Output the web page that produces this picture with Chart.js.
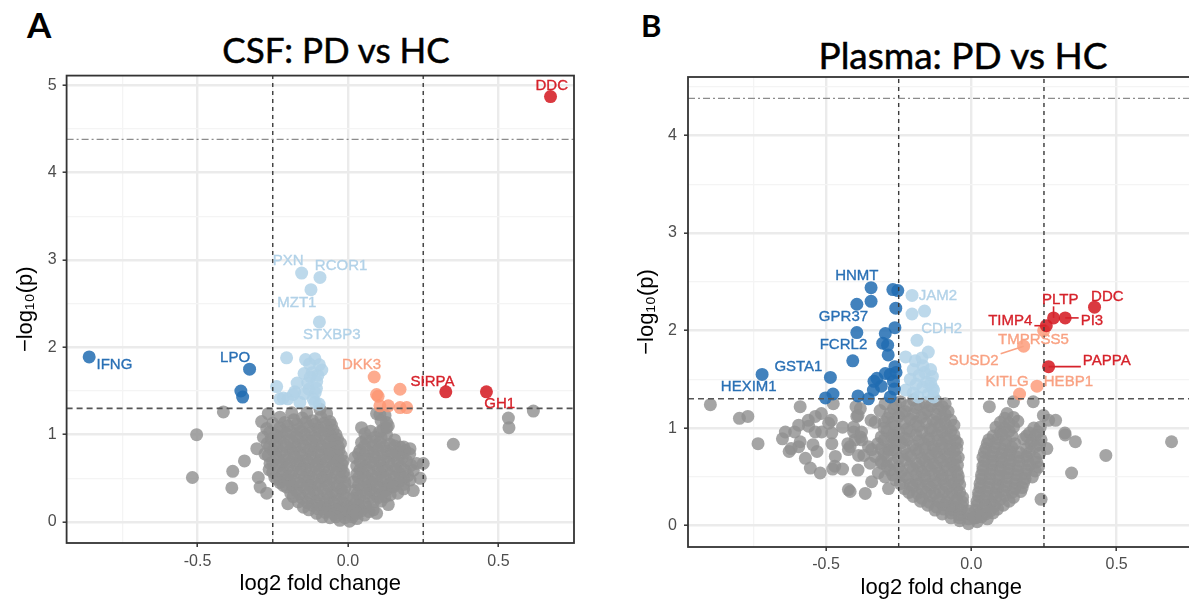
<!DOCTYPE html>
<html>
<head>
<meta charset="utf-8">
<script src="https://cdn.jsdelivr.net/npm/chart.js@4.4.1/dist/chart.umd.min.js"></script>
<style>
  html, body { margin: 0; padding: 0; background: #fff; overflow: hidden; width: 1189px; height: 602px; }
  .txt { position: absolute; font-family: Lato, 'Open Sans', sans-serif; color: #000; white-space: nowrap; line-height: 1.2; }
  .tag { font-weight: bold; }
  .ttl { text-align: center; width: 420px; -webkit-text-stroke: 0.5px #000; }
  .wrap { position: absolute; }
</style>
</head>
<body>
<div class="txt tag" style="left:27px;top:3px;font-size:35px;">A</div>
<div class="txt tag" style="left:641px;top:7px;font-size:31px;">B</div>
<div class="txt ttl" style="left:126px;top:28px;font-size:35px;">CSF: PD vs HC</div>
<div class="txt ttl" style="left:753px;top:33px;font-size:37px;">Plasma: PD vs HC</div>
<div class="wrap" style="left:0;top:60px;"><canvas id="csfChart" width="590" height="542"></canvas></div>
<div class="wrap" style="left:620px;top:60px;"><canvas id="plasmaChart" width="620" height="542"></canvas></div>

<script>
// cut-offs used in both plots
const fcCut = 0.25;
const pCut = 1.301;      // -log10(0.05)
const bonfCut = 4.38;    // bonferroni line

const xTickVals = [-0.75, -0.5, -0.25, 0, 0.25, 0.5, 0.75];
const yTickVals = [0, 0.5, 1, 1.5, 2, 2.5, 3, 3.5, 4, 4.5, 5];

// ---------- CSF (panel A) ----------
const csfUpStrong = [[0.673, 4.87, 'DDC'], [0.325, 1.49, 'SIRPA'], [0.46, 1.49, 'GH1']];
const csfUpWeak = [[0.087, 1.66, 'DKK3'], [0.095, 1.46], [0.173, 1.52], [0.106, 1.33], [0.134, 1.33],
  [0.173, 1.31], [0.195, 1.31], [0.1, 1.44]];
const csfDownStrong = [[-0.86, 1.89, 'IFNG'], [-0.327, 1.75, 'LPO'], [-0.356, 1.50], [-0.35, 1.43]];
const csfDownWeak = [[-0.154, 2.85, 'PXN'], [-0.093, 2.80, 'RCOR1'], [-0.123, 2.66, 'MZT1'], [-0.095, 2.29, 'STXBP3'],
  [-0.204, 1.88], [-0.141, 1.86], [-0.11, 1.87], [-0.087, 1.74], [-0.119, 1.71], [-0.146, 1.70], [-0.104, 1.61],
  [-0.134, 1.59], [-0.169, 1.59], [-0.237, 1.55], [-0.177, 1.49], [-0.109, 1.48], [-0.226, 1.41], [-0.2, 1.41],
  [-0.16, 1.37], [-0.116, 1.41], [-0.096, 1.35], [-0.215, 1.42], [-0.182, 1.46], [-0.11, 1.37], [-0.125, 1.66],
  [-0.1, 1.68], [-0.13, 1.52], [-0.105, 1.53], [-0.145, 1.47], [-0.128, 1.81], [-0.095, 1.8]];
const csfNS = [
  [-0.414, 1.26], [-0.503, 1.00], [-0.517, 0.51], [-0.344, 0.70], [-0.383, 0.58], [-0.386, 0.39], [-0.303, 0.84],
  [-0.287, 1.15], [-0.298, 0.51], [-0.27, 0.33], [-0.292, 0.40], [-0.2, 0.21],
  [0.616, 1.27], [0.533, 1.19], [0.535, 1.08], [0.35, 0.89], [0.206, 0.84], [0.25, 0.67], [0.217, 0.36], [0.24, 0.50],
  [0.128, 1.08], [0.106, 1.23], [0.134, 0.20], [0.095, 0.10],
  [-0.265, 1.24], [-0.187, 1.25], [-0.137, 1.25], [-0.093, 1.29], [-0.071, 1.24],
  [-0.226, 1.20], [-0.18, 1.17], [-0.152, 1.19], [-0.118, 1.16], [-0.09, 1.2], [-0.06, 1.15],
  [-0.25, 1.13], [-0.21, 1.14], [-0.17, 1.12], [-0.14, 1.14], [-0.11, 1.12], [-0.08, 1.13], [-0.055, 1.11],
  [-0.27, 1.07], [-0.226, 1.08], [-0.2, 1.1], [-0.165, 1.06], [-0.13, 1.09], [-0.1, 1.07], [-0.072, 1.1], [-0.049, 1.05],
  [-0.26, 1.03], [-0.22, 1.04], [-0.19, 1.03], [-0.155, 1.04], [-0.125, 1.02], [-0.095, 1.04], [-0.065, 1.03], [-0.04, 1.0],
  [-0.281, 0.97], [-0.237, 0.99], [-0.204, 1.01], [-0.172, 0.98], [-0.143, 1.0], [-0.112, 0.97], [-0.083, 1.01], [-0.055, 0.98], [-0.035, 0.95],
  [-0.255, 0.95], [-0.225, 0.96], [-0.195, 0.94], [-0.165, 0.95], [-0.135, 0.94], [-0.105, 0.95], [-0.075, 0.94], [-0.045, 0.93], [-0.025, 0.9],
  [-0.268, 0.9], [-0.237, 0.93], [-0.21, 0.88], [-0.18, 0.91], [-0.15, 0.89], [-0.12, 0.92], [-0.092, 0.88], [-0.063, 0.91], [-0.032, 0.86],
  [-0.262, 0.86], [-0.235, 0.85], [-0.205, 0.86], [-0.175, 0.85], [-0.145, 0.86], [-0.115, 0.85], [-0.085, 0.86], [-0.055, 0.85], [-0.03, 0.82],
  [-0.276, 0.78], [-0.25, 0.82], [-0.222, 0.8], [-0.19, 0.83], [-0.16, 0.79], [-0.13, 0.82], [-0.1, 0.8], [-0.07, 0.83], [-0.045, 0.79], [-0.022, 0.76],
  [-0.265, 0.76], [-0.24, 0.77], [-0.21, 0.76], [-0.18, 0.78], [-0.15, 0.76], [-0.12, 0.77], [-0.09, 0.76], [-0.06, 0.78], [-0.035, 0.76],
  [-0.259, 0.67], [-0.238, 0.73], [-0.208, 0.71], [-0.178, 0.74], [-0.148, 0.7], [-0.118, 0.73], [-0.09, 0.71], [-0.06, 0.74], [-0.034, 0.7], [-0.016, 0.7],
  [-0.25, 0.68], [-0.22, 0.67], [-0.19, 0.69], [-0.16, 0.67], [-0.13, 0.68], [-0.1, 0.67], [-0.07, 0.69], [-0.04, 0.67], [-0.02, 0.66],
  [-0.262, 0.6], [-0.23, 0.64], [-0.2, 0.62], [-0.17, 0.65], [-0.14, 0.61], [-0.11, 0.64], [-0.08, 0.62], [-0.05, 0.65], [-0.022, 0.61],
  [-0.25, 0.57], [-0.215, 0.59], [-0.185, 0.58], [-0.155, 0.6], [-0.125, 0.58], [-0.095, 0.59], [-0.065, 0.58], [-0.035, 0.6], [-0.015, 0.57],
  [-0.243, 0.51], [-0.218, 0.55], [-0.19, 0.53], [-0.16, 0.56], [-0.13, 0.52], [-0.1, 0.55], [-0.07, 0.53], [-0.04, 0.56], [-0.012, 0.52],
  [-0.235, 0.49], [-0.205, 0.5], [-0.175, 0.49], [-0.145, 0.5], [-0.115, 0.49], [-0.085, 0.5], [-0.055, 0.49], [-0.025, 0.5],
  [-0.226, 0.45], [-0.195, 0.47], [-0.165, 0.44], [-0.135, 0.46], [-0.105, 0.43], [-0.075, 0.47], [-0.045, 0.44], [-0.01, 0.45],
  [-0.215, 0.42], [-0.185, 0.41], [-0.155, 0.42], [-0.125, 0.41], [-0.095, 0.42], [-0.065, 0.41], [-0.035, 0.41], [-0.01, 0.39],
  [-0.204, 0.4], [-0.172, 0.36], [-0.142, 0.38], [-0.112, 0.35], [-0.082, 0.37], [-0.052, 0.34], [-0.022, 0.37],
  [-0.19, 0.33], [-0.16, 0.32], [-0.13, 0.33], [-0.1, 0.31], [-0.07, 0.32], [-0.04, 0.31], [-0.015, 0.32],
  [-0.182, 0.29], [-0.152, 0.27], [-0.122, 0.28], [-0.092, 0.26], [-0.062, 0.28], [-0.032, 0.25], [-0.005, 0.27],
  [-0.165, 0.23], [-0.135, 0.22], [-0.105, 0.23], [-0.075, 0.22], [-0.045, 0.21], [-0.015, 0.22],
  [-0.148, 0.17], [-0.118, 0.19], [-0.088, 0.17], [-0.06, 0.18], [-0.03, 0.16], [0.0, 0.18],
  [-0.13, 0.14], [-0.1, 0.15], [-0.07, 0.14], [-0.04, 0.14], [-0.01, 0.13], [0.01, 0.14],
  [-0.104, 0.1], [-0.075, 0.11], [-0.046, 0.09], [-0.018, 0.1], [0.015, 0.09],
  [-0.085, 0.06], [-0.04, 0.06], [-0.01, 0.05], [0.015, 0.06],
  [-0.06, 0.05], [-0.027, 0.02], [0.005, 0.01], [0.03, 0.04],
  [0.095, 1.24], [0.123, 1.22], [0.11, 1.16], [0.128, 1.14],
  [0.045, 1.08], [0.117, 1.06], [0.134, 1.1], [0.075, 1.04], [0.105, 1.03],
  [0.056, 1.01], [0.09, 0.97], [0.128, 1.0], [0.06, 0.95], [0.11, 0.96], [0.155, 0.94],
  [0.045, 0.91], [0.075, 0.92], [0.106, 0.91], [0.14, 0.89], [0.173, 0.86],
  [0.055, 0.87], [0.085, 0.87], [0.12, 0.86], [0.155, 0.87], [0.185, 0.86],
  [0.04, 0.82], [0.07, 0.8], [0.1, 0.83], [0.13, 0.81], [0.16, 0.8], [0.19, 0.82],
  [0.035, 0.78], [0.055, 0.77], [0.085, 0.78], [0.115, 0.77], [0.145, 0.78], [0.175, 0.77], [0.205, 0.78],
  [0.023, 0.74], [0.06, 0.72], [0.09, 0.74], [0.12, 0.71], [0.15, 0.76], [0.18, 0.73], [0.195, 0.7], [0.228, 0.67],
  [0.04, 0.69], [0.075, 0.68], [0.105, 0.69], [0.135, 0.68], [0.165, 0.69], [0.21, 0.65],
  [0.029, 0.64], [0.055, 0.63], [0.085, 0.66], [0.115, 0.62], [0.145, 0.65], [0.175, 0.63], [0.217, 0.59],
  [0.04, 0.6], [0.07, 0.59], [0.1, 0.6], [0.13, 0.59], [0.16, 0.6], [0.19, 0.59],
  [0.029, 0.55], [0.05, 0.56], [0.08, 0.53], [0.11, 0.56], [0.14, 0.54], [0.173, 0.55], [0.2, 0.53],
  [0.035, 0.51], [0.065, 0.5], [0.095, 0.51], [0.125, 0.5], [0.155, 0.51], [0.185, 0.5],
  [0.02, 0.46], [0.05, 0.47], [0.08, 0.45], [0.11, 0.47], [0.14, 0.44], [0.17, 0.46], [0.206, 0.48],
  [0.035, 0.42], [0.065, 0.41], [0.095, 0.42], [0.125, 0.41], [0.155, 0.42], [0.185, 0.43],
  [0.023, 0.36], [0.045, 0.38], [0.075, 0.36], [0.1, 0.39], [0.13, 0.37], [0.15, 0.4], [0.185, 0.38],
  [0.03, 0.32], [0.06, 0.33], [0.09, 0.32], [0.115, 0.33], [0.14, 0.31], [0.165, 0.33],
  [0.018, 0.27], [0.04, 0.29], [0.07, 0.27], [0.1, 0.28], [0.123, 0.29],
  [0.028, 0.23], [0.055, 0.22], [0.085, 0.23], [0.11, 0.24],
  [0.018, 0.17], [0.035, 0.19], [0.06, 0.17], [0.084, 0.14],
  [0.045, 0.13], [0.07, 0.12], [0.02, 0.13],
  [0.03, 0.1], [0.055, 0.08]
];
const csfLabelSpots = {
  DDC: [0.677, 4.99], PXN: [-0.199, 2.99], RCOR1: [-0.023, 2.93], MZT1: [-0.17, 2.51], STXBP3: [-0.054, 2.14],
  IFNG: [-0.776, 1.80], LPO: [-0.375, 1.88], DKK3: [0.045, 1.80], SIRPA: [0.281, 1.61], GH1: [0.504, 1.35]
};

// ---------- Plasma (panel B) ----------
const plasmaUpStrong = [[0.424, 2.24, 'DDC'], [0.283, 2.13, 'PLTP'], [0.323, 2.13, 'PI3'], [0.258, 2.05, 'TIMP4'],
  [0.266, 1.63, 'PAPPA']];
const plasmaUpWeak = [[0.249, 2.0, 'TMPRSS5'], [0.18, 1.84, 'SUSD2'], [0.166, 1.35, 'KITLG'], [0.226, 1.43, 'HEBP1']];
const plasmaDownStrong = [[-0.345, 2.44, 'HNMT'], [-0.345, 2.30], [-0.394, 2.27, 'GPR37'], [-0.27, 2.42], [-0.253, 2.41],
  [-0.26, 2.23], [-0.394, 1.98], [-0.263, 2.03], [-0.296, 1.97], [-0.305, 1.87], [-0.288, 1.85], [-0.286, 1.75],
  [-0.408, 1.69, 'FCRL2'], [-0.263, 1.63], [-0.259, 1.57], [-0.279, 1.55], [-0.296, 1.56], [-0.325, 1.51],
  [-0.335, 1.48], [-0.268, 1.48], [-0.485, 1.52, 'GSTA1'], [-0.72, 1.55, 'HEXIM1'], [-0.337, 1.39], [-0.476, 1.35],
  [-0.502, 1.31], [-0.39, 1.33], [-0.354, 1.30], [-0.279, 1.32], [-0.31, 1.43], [-0.265, 1.4]];
const plasmaDownWeak = [[-0.204, 2.36, 'JAM2'], [-0.204, 2.17], [-0.161, 2.20], [-0.187, 1.90, 'CDH2'], [-0.148, 1.78],
  [-0.226, 1.73], [-0.193, 1.69], [-0.167, 1.64], [-0.161, 1.57], [-0.134, 1.53], [-0.18, 1.54], [-0.154, 1.47],
  [-0.167, 1.42], [-0.134, 1.41], [-0.226, 1.39], [-0.148, 1.35], [-0.183, 1.32], [-0.13, 1.39], [-0.13, 1.32],
  [-0.2, 1.6], [-0.17, 1.72], [-0.14, 1.6], [-0.19, 1.45], [-0.21, 1.5], [-0.14, 1.46], [-0.2, 1.36]];
const plasmaNS = [
  [-0.898, 1.24], [-0.798, 1.10], [-0.769, 1.12], [-0.734, 0.84], [-0.589, 1.22], [-0.65, 0.89], [-0.627, 0.76],
  [-0.62, 0.79], [-0.589, 0.86], [-0.608, 0.96], [-0.571, 0.69], [-0.554, 0.59], [-0.594, 1.03], [-0.56, 1.02],
  [-0.561, 1.08], [-0.537, 1.12], [-0.516, 1.15], [-0.537, 0.96], [-0.515, 0.96], [-0.545, 0.83], [-0.531, 0.76],
  [-0.594, 0.81], [-0.52, 0.54], [-0.64, 0.96],
  [-0.491, 1.05], [-0.482, 1.08], [-0.48, 0.95], [-0.48, 0.84], [-0.468, 0.71], [-0.477, 0.58], [-0.47, 0.61],
  [-0.443, 0.58], [-0.443, 1.01], [-0.425, 0.84], [-0.417, 0.81], [-0.423, 0.78], [-0.405, 0.96], [-0.405, 1.01],
  [-0.4, 0.88], [-0.394, 1.12], [-0.382, 1.20], [-0.397, 1.22], [-0.475, 1.25], [-0.423, 0.37], [-0.417, 0.35],
  [-0.365, 0.33], [-0.382, 0.91], [-0.377, 0.88], [-0.378, 0.96], [-0.39, 1.13], [-0.388, 0.72], [-0.37, 0.72],
  [-0.39, 0.57], [-0.354, 0.81], [-0.345, 1.08], [-0.331, 1.06], [-0.343, 0.78], [-0.348, 0.64], [-0.343, 0.45],
  [-0.331, 0.71], [-0.32, 0.54], [-0.308, 0.64], [-0.314, 1.18], [-0.297, 1.25], [-0.297, 0.50], [-0.285, 0.38],
  [-0.285, 0.78], [-0.274, 0.91],
  [0.689, 0.86], [0.463, 0.72], [0.345, 0.54], [0.322, 0.95], [0.358, 0.86], [0.323, 0.93], [0.29, 1.08],
  [0.266, 1.08], [0.213, 1.27], [0.062, 1.22], [0.24, 0.27], [0.26, 0.79], [0.248, 1.13], [0.237, 1.01], [0.231, 0.60],
  [-0.244, 1.27], [-0.2, 1.29], [-0.16, 1.26], [-0.122, 1.28], [-0.09, 1.25],
  [-0.26, 1.24], [-0.22, 1.23], [-0.18, 1.24], [-0.14, 1.23], [-0.1, 1.22],
  [-0.268, 1.2], [-0.228, 1.17], [-0.19, 1.21], [-0.15, 1.18], [-0.112, 1.2], [-0.08, 1.17],
  [-0.28, 1.15], [-0.24, 1.15], [-0.2, 1.14], [-0.16, 1.15], [-0.12, 1.14], [-0.09, 1.14],
  [-0.288, 1.1], [-0.25, 1.12], [-0.21, 1.09], [-0.172, 1.11], [-0.132, 1.08], [-0.1, 1.11], [-0.07, 1.08],
  [-0.3, 1.06], [-0.27, 1.06], [-0.23, 1.05], [-0.19, 1.06], [-0.155, 1.05], [-0.12, 1.06], [-0.09, 1.05], [-0.06, 1.03],
  [-0.3, 1.0], [-0.262, 1.02], [-0.222, 0.99], [-0.182, 1.02], [-0.142, 0.99], [-0.11, 1.02], [-0.08, 0.99],
  [-0.29, 0.97], [-0.25, 0.96], [-0.21, 0.97], [-0.17, 0.96], [-0.135, 0.97], [-0.1, 0.96], [-0.07, 0.97],
  [-0.31, 0.91], [-0.27, 0.93], [-0.23, 0.9], [-0.19, 0.93], [-0.15, 0.9], [-0.118, 0.93], [-0.088, 0.9], [-0.06, 0.93],
  [-0.3, 0.88], [-0.26, 0.87], [-0.22, 0.88], [-0.18, 0.87], [-0.145, 0.88], [-0.115, 0.87], [-0.085, 0.88], [-0.055, 0.87],
  [-0.322, 0.84], [-0.28, 0.82], [-0.24, 0.85], [-0.2, 0.82], [-0.162, 0.84], [-0.13, 0.81], [-0.1, 0.84], [-0.07, 0.82], [-0.048, 0.85],
  [-0.31, 0.79], [-0.27, 0.78], [-0.23, 0.79], [-0.19, 0.78], [-0.16, 0.79], [-0.13, 0.78], [-0.1, 0.79], [-0.075, 0.78], [-0.05, 0.79],
  [-0.3, 0.74], [-0.26, 0.76], [-0.22, 0.73], [-0.182, 0.75], [-0.15, 0.72], [-0.12, 0.75], [-0.09, 0.73], [-0.06, 0.76], [-0.045, 0.7],
  [-0.29, 0.7], [-0.25, 0.69], [-0.21, 0.71], [-0.17, 0.69], [-0.14, 0.7], [-0.11, 0.69], [-0.08, 0.7], [-0.055, 0.69],
  [-0.31, 0.66], [-0.27, 0.64], [-0.23, 0.67], [-0.19, 0.64], [-0.16, 0.66], [-0.13, 0.63], [-0.1, 0.66], [-0.07, 0.64], [-0.048, 0.62],
  [-0.29, 0.61], [-0.25, 0.6], [-0.21, 0.61], [-0.18, 0.6], [-0.15, 0.61], [-0.12, 0.6], [-0.09, 0.61], [-0.06, 0.6],
  [-0.28, 0.57], [-0.24, 0.55], [-0.2, 0.58], [-0.17, 0.55], [-0.14, 0.57], [-0.11, 0.54], [-0.08, 0.57], [-0.05, 0.55],
  [-0.27, 0.52], [-0.23, 0.51], [-0.19, 0.52], [-0.16, 0.51], [-0.13, 0.52], [-0.1, 0.51], [-0.07, 0.52], [-0.045, 0.51],
  [-0.26, 0.47], [-0.22, 0.49], [-0.19, 0.46], [-0.16, 0.48], [-0.13, 0.45], [-0.1, 0.48], [-0.07, 0.46], [-0.045, 0.47],
  [-0.245, 0.43], [-0.21, 0.42], [-0.18, 0.43], [-0.15, 0.42], [-0.12, 0.43], [-0.09, 0.42], [-0.06, 0.43], [-0.04, 0.42],
  [-0.23, 0.38], [-0.2, 0.4], [-0.17, 0.37], [-0.14, 0.39], [-0.11, 0.36], [-0.08, 0.39], [-0.05, 0.37],
  [-0.215, 0.34], [-0.185, 0.33], [-0.155, 0.34], [-0.125, 0.33], [-0.095, 0.34], [-0.065, 0.33], [-0.04, 0.34],
  [-0.2, 0.3], [-0.17, 0.28], [-0.14, 0.3], [-0.11, 0.27], [-0.08, 0.29], [-0.05, 0.27], [-0.03, 0.29],
  [-0.175, 0.25], [-0.145, 0.24], [-0.115, 0.25], [-0.085, 0.24], [-0.055, 0.25], [-0.03, 0.24],
  [-0.15, 0.21], [-0.12, 0.19], [-0.09, 0.21], [-0.06, 0.19], [-0.032, 0.2],
  [-0.125, 0.16], [-0.095, 0.17], [-0.065, 0.16], [-0.035, 0.16], [-0.01, 0.15],
  [-0.1, 0.12], [-0.07, 0.13], [-0.04, 0.11], [-0.012, 0.12],
  [-0.07, 0.08], [-0.04, 0.08], [-0.01, 0.07], [0.015, 0.08],
  [-0.04, 0.05], [-0.01, 0.02], [0.02, 0.04],
  [0.145, 1.27], [0.123, 1.15], [0.115, 1.1], [0.145, 1.11], [0.1, 1.06], [0.13, 1.05], [0.16, 1.07],
  [0.085, 1.01], [0.115, 1.0], [0.145, 1.01], [0.215, 1.0],
  [0.1, 0.96], [0.13, 0.97], [0.2, 0.95], [0.23, 0.96],
  [0.075, 0.92], [0.105, 0.93], [0.14, 0.92], [0.19, 0.92], [0.22, 0.92],
  [0.06, 0.88], [0.09, 0.89], [0.12, 0.87], [0.18, 0.89], [0.21, 0.87], [0.24, 0.88],
  [0.055, 0.84], [0.085, 0.84], [0.115, 0.83], [0.15, 0.84], [0.205, 0.84], [0.235, 0.83],
  [0.05, 0.79], [0.08, 0.8], [0.11, 0.78], [0.14, 0.8], [0.19, 0.79], [0.22, 0.81],
  [0.045, 0.75], [0.075, 0.75], [0.105, 0.74], [0.135, 0.76], [0.165, 0.75], [0.2, 0.75], [0.235, 0.74],
  [0.04, 0.7], [0.07, 0.71], [0.1, 0.69], [0.13, 0.72], [0.16, 0.7], [0.19, 0.71], [0.22, 0.69],
  [0.045, 0.66], [0.075, 0.66], [0.105, 0.65], [0.135, 0.67], [0.165, 0.66], [0.195, 0.66], [0.225, 0.65],
  [0.04, 0.61], [0.07, 0.62], [0.1, 0.6], [0.13, 0.63], [0.16, 0.61], [0.2, 0.62],
  [0.04, 0.57], [0.07, 0.57], [0.1, 0.56], [0.13, 0.58], [0.16, 0.56], [0.19, 0.57], [0.22, 0.56],
  [0.035, 0.52], [0.065, 0.53], [0.095, 0.51], [0.125, 0.54], [0.155, 0.52], [0.185, 0.53], [0.21, 0.5],
  [0.035, 0.48], [0.065, 0.48], [0.095, 0.47], [0.125, 0.49], [0.155, 0.47], [0.185, 0.48],
  [0.03, 0.43], [0.06, 0.44], [0.09, 0.42], [0.12, 0.45], [0.15, 0.43], [0.18, 0.44],
  [0.03, 0.39], [0.06, 0.39], [0.09, 0.38], [0.12, 0.4], [0.15, 0.38], [0.175, 0.39],
  [0.025, 0.34], [0.05, 0.35], [0.08, 0.33], [0.11, 0.36], [0.14, 0.34], [0.17, 0.35],
  [0.025, 0.3], [0.055, 0.3], [0.085, 0.29], [0.115, 0.31], [0.145, 0.29],
  [0.02, 0.25], [0.045, 0.26], [0.07, 0.24], [0.1, 0.27], [0.13, 0.25],
  [0.02, 0.21], [0.05, 0.21], [0.08, 0.2], [0.11, 0.21],
  [0.015, 0.16], [0.04, 0.17], [0.065, 0.15], [0.09, 0.17],
  [0.025, 0.12], [0.05, 0.12], [0.075, 0.13],
  [0.01, 0.08], [0.035, 0.09], [0.055, 0.07]
];
const plasmaLabelSpots = {
  HNMT: [-0.394, 2.56], GPR37: [-0.44, 2.14], FCRL2: [-0.44, 1.85], GSTA1: [-0.595, 1.63], HEXIM1: [-0.766, 1.42],
  JAM2: [-0.115, 2.36], CDH2: [-0.102, 2.02], DDC: [0.468, 2.35], PLTP: [0.306, 2.32], PI3: [0.415, 2.10],
  TIMP4: [0.134, 2.10], PAPPA: [0.466, 1.69], TMPRSS5: [0.214, 1.90], SUSD2: [0.008, 1.69], KITLG: [0.123, 1.47],
  HEBP1: [0.334, 1.47]
};
const plasmaConnected = ['PLTP', 'TIMP4', 'PI3', 'PAPPA', 'SUSD2'];

// colours
const colUpStrong = 'rgba(213,30,38,0.88)';
const colUpWeak = 'rgba(252,150,115,0.8)';
const colDownStrong = 'rgba(33,108,178,0.85)';
const colDownWeak = 'rgba(178,210,232,0.85)';
const colNS = 'rgba(145,145,145,0.82)';
const txtCol = { up2: '#D6222B', up1: '#F9A283', dn2: '#2A70B5', dn1: '#B2D2E8' };

const isMajorX = v => Math.abs(v * 2 - Math.round(v * 2)) < 1e-9;
const isMajorY = v => Math.abs(v - Math.round(v)) < 1e-9;

function pts(arr) {
  return arr.map(p => ({ x: p[0], y: p[1], gene: p[2] || null }));
}

const volcanoDecor = {
  id: 'volcanoDecor',
  afterDatasetsDraw(chart, args, opts) {
    const { ctx, chartArea: a, scales: { x, y } } = chart;
    ctx.save();
    ctx.beginPath();
    ctx.rect(a.left, a.top, a.width, a.height);
    ctx.clip();
    // fold change cut-offs
    ctx.strokeStyle = '#3a3a3a';
    ctx.lineWidth = 1.4;
    ctx.setLineDash([4, 4]);
    [-fcCut, fcCut].forEach(v => {
      const px = x.getPixelForValue(v);
      ctx.beginPath(); ctx.moveTo(px, a.bottom); ctx.lineTo(px, a.top); ctx.stroke();
    });
    // p-value line
    ctx.strokeStyle = '#555';
    ctx.lineWidth = opts.pWidth;
    ctx.setLineDash([6, 4]);
    let py = y.getPixelForValue(pCut);
    ctx.beginPath(); ctx.moveTo(a.left, py); ctx.lineTo(a.right, py); ctx.stroke();
    // bonferroni line
    ctx.strokeStyle = '#8c8c8c';
    ctx.lineWidth = 1.3;
    ctx.setLineDash([7, 3, 2, 3]);
    py = y.getPixelForValue(bonfCut);
    ctx.beginPath(); ctx.moveTo(a.left, py); ctx.lineTo(a.right, py); ctx.stroke();
    ctx.restore();

    // panel border
    ctx.save();
    ctx.strokeStyle = '#333';
    ctx.lineWidth = 1.8;
    ctx.strokeRect(a.left, a.top, a.width, a.height);
    ctx.restore();

    // gene labels
    ctx.save();
    ctx.font = '15px "Liberation Sans", Arial, sans-serif';
    ctx.textAlign = 'center';
    ctx.textBaseline = 'middle';
    chart.data.datasets.forEach((ds, i) => {
      if (!ds.textColor) return;
      ds.data.forEach(p => {
        if (!p.gene || !opts.spots[p.gene]) return;
        const s = opts.spots[p.gene];
        const lx = x.getPixelForValue(s[0]);
        const ly = y.getPixelForValue(s[1]);
        const px = x.getPixelForValue(p.x);
        const ppy = y.getPixelForValue(p.y);
        ctx.fillStyle = ds.textColor;
        ctx.strokeStyle = ds.textColor;
        if (opts.connected.includes(p.gene)) {
          const w = ctx.measureText(p.gene).width / 2 + 2;
          const h = 7;
          const cx = Math.min(Math.max(px, lx - w), lx + w);
          const cy = Math.min(Math.max(ppy, ly - h), ly + h);
          ctx.lineWidth = 1.6;
          ctx.beginPath(); ctx.moveTo(px, ppy); ctx.lineTo(cx, cy); ctx.stroke();
        }
        ctx.fillText(p.gene, lx, ly);
        ctx.lineWidth = 0.35;
        ctx.strokeText(p.gene, lx, ly);
      });
    });
    ctx.restore();
  }
};

function makeChart(id, cfg) {
  const tickFont = { family: '"Liberation Sans", Arial, sans-serif', size: 16 };
  const titleFont = { family: '"Liberation Sans", Arial, sans-serif', size: 22 };
  const gridColor = (major) => (c) => major(c.tick.value) ? '#EBEBEB' : '#F4F4F4';
  const gridWidth = (major) => (c) => major(c.tick.value) ? 2.4 : 1.3;
  const tickCol = (major) => (c) => major(c.tick.value) ? '#333' : 'rgba(0,0,0,0)';
  const ds = (arr, col, txt, order) => ({
    data: pts(arr), backgroundColor: col, borderWidth: 0, pointRadius: 6.5, pointHoverRadius: 6.5,
    textColor: txt, order: order
  });
  return new Chart(document.getElementById(id), {
    type: 'scatter',
    data: {
      datasets: [
        ds(cfg.upStrong, colUpStrong, txtCol.up2, 0),
        ds(cfg.upWeak, colUpWeak, txtCol.up1, 1),
        ds(cfg.downStrong, colDownStrong, txtCol.dn2, 2),
        ds(cfg.downWeak, colDownWeak, txtCol.dn1, 3),
        ds(cfg.ns, colNS, null, 4)
      ]
    },
    options: {
      responsive: false,
      animation: false,
      events: [],
      layout: { padding: { top: cfg.padTop, right: cfg.padRight, left: 0, bottom: 0 } },
      scales: {
        x: {
          type: 'linear', min: cfg.xMin, max: cfg.xMax,
          afterBuildTicks: s => { s.ticks = xTickVals.filter(v => v >= cfg.xMin && v <= cfg.xMax).map(v => ({ value: v })); },
          afterFit: s => { s.height = cfg.xAxisH; },
          ticks: {
            autoSkip: false, maxRotation: 0, padding: cfg.xTickPad, color: '#4D4D4D', font: tickFont,
            callback: v => isMajorX(v) ? v.toFixed(1) : ''
          },
          grid: {
            color: gridColor(isMajorX), lineWidth: gridWidth(isMajorX),
            tickLength: 4, tickColor: tickCol(isMajorX), tickWidth: 1.5
          },
          border: { display: false },
          title: { display: true, text: 'log2 fold change', color: '#000', font: titleFont, padding: { top: 0, bottom: cfg.xTitlePad } }
        },
        y: {
          type: 'linear', min: cfg.yMin, max: cfg.yMax,
          afterBuildTicks: s => { s.ticks = yTickVals.filter(v => v >= cfg.yMin && v <= cfg.yMax).map(v => ({ value: v })); },
          afterFit: s => { s.width = cfg.yAxisW; },
          ticks: {
            autoSkip: false, padding: cfg.yTickPad, color: '#4D4D4D', font: tickFont,
            callback: v => isMajorY(v) ? String(v) : ''
          },
          grid: {
            color: gridColor(isMajorY), lineWidth: gridWidth(isMajorY),
            tickLength: 4, tickColor: tickCol(isMajorY), tickWidth: 1.5
          },
          border: { display: false },
          title: { display: true, text: '\u2212log\u2081\u2080(p)', color: '#000', font: titleFont, padding: { top: cfg.yTitlePad, bottom: 0 } }
        }
      },
      plugins: {
        legend: { display: false },
        tooltip: { enabled: false },
        volcanoDecor: { spots: cfg.spots, connected: cfg.connected, pWidth: cfg.pWidth }
      }
    },
    plugins: [volcanoDecor]
  });
}

makeChart('csfChart', {
  upStrong: csfUpStrong, upWeak: csfUpWeak, downStrong: csfDownStrong, downWeak: csfDownWeak, ns: csfNS,
  spots: csfLabelSpots, connected: [],
  xMin: -0.935, xMax: 0.751, yMin: -0.24, yMax: 5.11,
  padTop: 12, padRight: 16, xAxisH: 59, yAxisW: 66.6,
  xTickPad: 4.6, yTickPad: 6, xTitlePad: 4.5, yTitlePad: 13, pWidth: 1.9
});

makeChart('plasmaChart', {
  upStrong: plasmaUpStrong, upWeak: plasmaUpWeak, downStrong: plasmaDownStrong, downWeak: plasmaDownWeak, ns: plasmaNS,
  spots: plasmaLabelSpots, connected: plasmaConnected,
  xMin: -0.975, xMax: 0.768, yMin: -0.219, yMax: 4.6,
  padTop: 17, padRight: 45.5, xAxisH: 55, yAxisW: 68,
  xTickPad: 3.8, yTickPad: 7, xTitlePad: 1.3, yTitlePad: 13.5, pWidth: 1.4
});
</script>
</body>
</html>
